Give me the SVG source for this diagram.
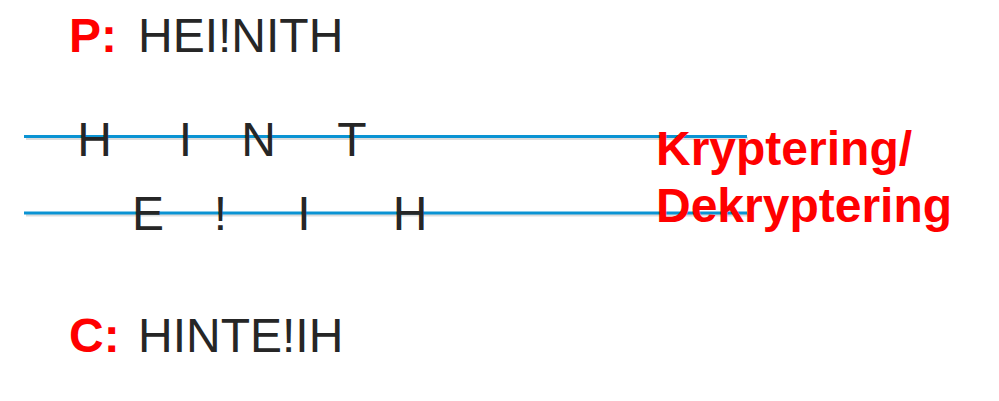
<svg xmlns="http://www.w3.org/2000/svg" width="999" height="401" viewBox="0 0 999 401">
<style>
.lbl{font-family:"Liberation Sans",Arial,sans-serif;font-size:48px;font-weight:bold;fill:#ff0000}
.txt{font-family:"Liberation Sans",Arial,sans-serif;font-size:48px;fill:#262626}
.rail{fill:none;stroke:#0a93d3;stroke-width:3}
.shadow{fill:none;stroke:#9a9a9a;stroke-width:3;opacity:0.35}
</style>
<rect width="999" height="401" fill="#ffffff"/>
<g id="plaintext">
<text class="lbl" x="69" y="52">P:</text>
<text class="txt" x="138" y="52">HEI!NITH</text>
</g>
<g id="connectors">
<line class="shadow" x1="26" y1="138.5" x2="748" y2="138.5"/>
<line class="rail" x1="24" y1="136.5" x2="747" y2="136.5"/>
<line class="shadow" x1="26" y1="215" x2="748" y2="215"/>
<line class="rail" x1="24" y1="213" x2="747" y2="213"/>
</g>
<g id="rail1" class="txt" text-anchor="middle">
<text x="94.5" y="155.5">H</text>
<text x="185.5" y="155.5">I</text>
<text x="258.5" y="155.5">N</text>
<text x="352" y="155.5">T</text>
</g>
<g id="rail2" class="txt" text-anchor="middle">
<text x="148" y="230">E</text>
<text x="220.5" y="230">!</text>
<text x="304" y="230">I</text>
<text x="410" y="230">H</text>
</g>
<g id="label">
<text class="lbl" x="656" y="165">Kryptering/</text>
<text class="lbl" x="656" y="222">Dekryptering</text>
</g>
<g id="ciphertext">
<text class="lbl" x="69" y="351.5">C:</text>
<text class="txt" x="138" y="351.5">HINTE!IH</text>
</g>
</svg>
